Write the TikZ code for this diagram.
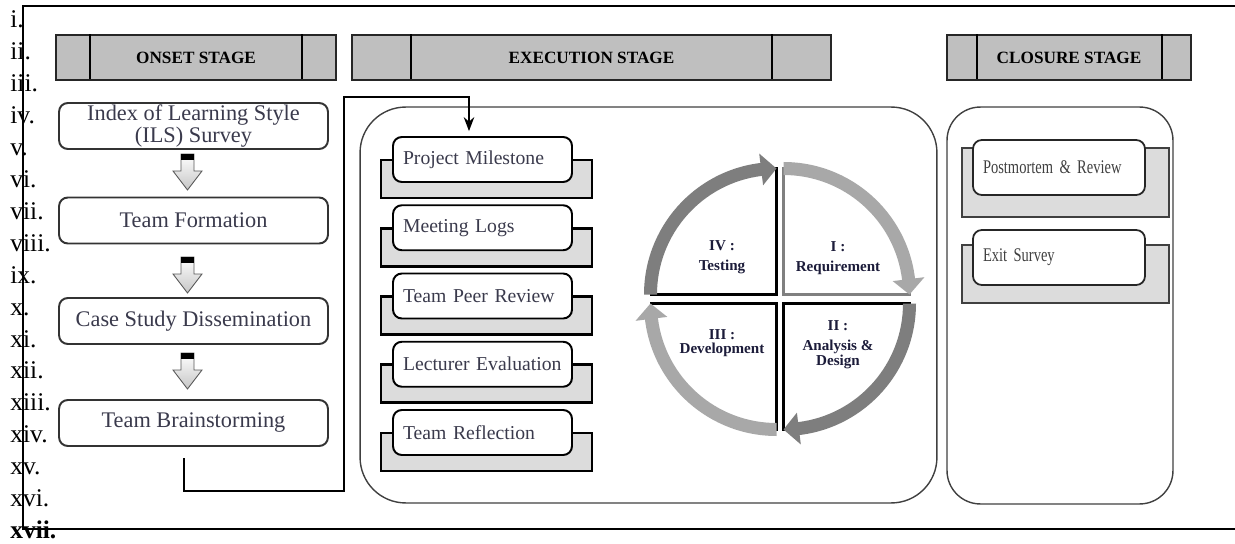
\documentclass[tikz,border=0pt]{standalone}
\usepackage{fontspec}
\setmainfont{Liberation Serif}
\newfontfamily\condfont[FakeStretch=0.75]{Liberation Serif}
\usepackage{tikz}
\usetikzlibrary{arrows.meta, positioning, calc}
\definecolor{HdrGray}{HTML}{BFBFBF}
\definecolor{TabGray}{HTML}{DCDCDC}
\definecolor{RingLight}{HTML}{A8A8A8}
\definecolor{RingDark}{HTML}{7E7E7E}
\definecolor{ItemText}{HTML}{3A3A4C}
\definecolor{LblText}{HTML}{1C1C3A}

\tikzset{
    numlbl/.style={anchor=base west, inner sep=0pt, font=\fontsize{14.5}{16}\selectfont},
    stagehdr/.style={draw=black!85, line width=1pt, fill=HdrGray, minimum height=0.9cm,
        inner sep=0pt, font=\bfseries\fontsize{9.8}{11}\selectfont},
    onsetbox/.style={draw=black!80, line width=1.1pt, rounded corners=5pt, fill=white,
        minimum width=5.38cm, minimum height=0.92cm, inner sep=0pt, align=center,
        text=ItemText, font=\fontsize{12.7}{12.5}\selectfont},
    container/.style={draw=black!75, line width=0.8pt, fill=white, inner sep=0pt},
    tabback/.style={draw=black, line width=1.6pt, fill=TabGray, minimum width=4.22cm,
        minimum height=0.76cm, inner sep=0pt},
    tabfront/.style={draw=black, line width=1.1pt, rounded corners=5pt, fill=white,
        text width=3.18cm, inner xsep=0.2cm, inner ysep=0pt, minimum height=0.9cm,
        align=left, text=ItemText, font=\fontsize{11.2}{13}\selectfont},
    closefront/.style={draw=black!85, line width=1pt, rounded corners=5pt, fill=white,
        text width=3.04cm, inner xsep=0.2cm, inner ysep=0pt, minimum height=1.1cm,
        align=left, text=black!75, font=\condfont\fontsize{11}{13}\selectfont},
    cyclbl/.style={inner sep=0pt, align=center, text=LblText,
        font=\bfseries\fontsize{8.6}{11.3}\selectfont}
}

\begin{document}
\begin{tikzpicture}[x=0.02cm, y=0.02cm, >=Stealth]
    \useasboundingbox (0,0) rectangle (1235,-544);

    % Margin numbering
    \foreach \r [count=\i from 0] in {i,ii,iii,iv,v,vi,vii,viii,ix,x,xi,xii,xiii,xiv,xv,xvi} {
        \node[numlbl] (num\i) at (10,{-(28+31.9*\i)}) {\r.};
    }
    \node[numlbl, font=\bfseries\fontsize{14.5}{16}\selectfont] (num16) at (10,-538) {xvii.};

    % Frame
    \draw[line width=1.1pt] (1235,-6) -- (23,-6) -- (23,-529) -- (1235,-529);

    % Stage headers
    \node[stagehdr, minimum width=5.6cm] (onsethdr) at (196,-57.5) {ONSET STAGE};
    \node[stagehdr, minimum width=9.58cm] (exechdr) at (591.5,-57.5) {EXECUTION STAGE};
    \node[stagehdr, minimum width=4.88cm] (closehdr) at (1069,-57.5) {CLOSURE STAGE};
    \draw[line width=0.9pt] (onsethdr.north west) ++(35,0) -- ++(0,-45);
    \draw[line width=0.9pt] (onsethdr.north east) ++(-35,0) -- ++(0,-45);
    \draw[line width=0.9pt] (exechdr.north west) ++(60,0) -- ++(0,-45);
    \draw[line width=0.9pt] (exechdr.north east) ++(-60,0) -- ++(0,-45);
    \draw[line width=0.9pt] (closehdr.north west) ++(31,0) -- ++(0,-45);
    \draw[line width=0.9pt] (closehdr.north east) ++(-30,0) -- ++(0,-45);

    % Onset stage
    \node[onsetbox] (ils) at (193.5,-126) {Index of Learning Style\\(ILS) Survey};
    \node[onsetbox] (team) at (193.5,-220.5) {Team Formation};
    \node[onsetbox] (cases) at (193.5,-321) {Case Study Dissemination};
    \node[onsetbox] (brain) at (193.5,-423) {Team Brainstorming};
    \foreach \t in {154,257,353} {
        \draw[top color=white, bottom color=gray!45, draw=gray!70!black, line width=0.5pt]
            (181,-\t) -- (194,-\t) -- (194,-\t-17) -- (202,-\t-17) -- (187.5,-\t-36)
            -- (173,-\t-17) -- (181,-\t-17) -- cycle;
        \fill[black] (181,-\t) rectangle (194,-\t-6);
    }

    % Containers
    \node[container, minimum width=11.54cm, minimum height=7.92cm, rounded corners=26pt] (execbox) at (648.5,-305) {};
    \node[container, minimum width=4.52cm, minimum height=7.94cm, rounded corners=19pt] (closebox) at (1060,-305.5) {};

    % Execution items
    \foreach \n/\t [count=\i from 0] in {mile/Project Milestone, logs/Meeting Logs, peer/Team Peer Review, lect/Lecturer Evaluation, refl/Team Reflection} {
        \node[tabback] (\n-back) at (486.5,{-(179+68.25*\i)}) {};
        \node[tabfront] (\n) at (482.5,{-(159.5+68.25*\i)}) {\mbox{\t}};
    }

    % Hand-over from onset to execution
    \coordinate (brainout) at (184,-458);
    \coordinate (turn) at (469,-97);
    \draw[line width=1.1pt, ->, shorten >=2.8pt] (brainout) |- (344,-491) -- (344,-97) -- (turn) -- (turn |- mile.north);

    % Closure items
    \node[tabback, draw=black!75, line width=1pt, minimum width=4.14cm, minimum height=1.38cm] (post-back) at (1065.5,-182.5) {};
    \node[closefront] (post) at (1059,-167.5) {Postmortem \& Review};
    \node[tabback, draw=black!75, line width=1pt, minimum width=4.14cm, minimum height=1.16cm] (exit-back) at (1065.5,-274) {};
    \node[closefront] (exit) at (1059,-257.5) {Exit Survey};

    % Development cycle
    \coordinate (cyc) at (780,-299);
    \foreach \a/\dx/\dy/\col/\edge in {90/3.5/4.5/RingLight/black!50, 0/3.5/-4.5/RingDark/black, -90/-3.5/-4.5/RingLight/black, 180/-3.5/4.5/RingDark/black} {
        \coordinate (qc) at ($(cyc)+(\dx,\dy)$);
        \pgfmathsetmacro\b{\a-90}
        \pgfmathsetmacro\h{\a-83}
        \draw[\edge, line width=1.2pt] ($(qc)+(\a:127)$) -- (qc) -- ($(qc)+(\b:127)$);
        \fill[\col] ($(qc)+(\a:132.5)$) arc[start angle=\a, end angle=\h, radius=132.5]
            -- ($(qc)+(\h:142)$) -- ($(qc)+(\b:126)$) -- ($(qc)+(\h:110)$)
            -- ($(qc)+(\h:119.5)$) arc[start angle=\h, end angle=\a, radius=119.5] -- cycle;
    }
    \node[cyclbl] (testlbl) at (722,-257) {IV :\\Testing};
    \node[cyclbl] (reqlbl) at (838,-258) {I :\\Requirement};
    \node[cyclbl, font=\bfseries\fontsize{8.6}{7.6}\selectfont] (devlbl) at (722,-343) {III :\\Development};
    \node[cyclbl, font=\bfseries\fontsize{8.6}{8.5}\selectfont] (anlbl) at (838,-345) {II :\\[2.8pt]Analysis \&\\Design};
\end{tikzpicture}
\end{document}
